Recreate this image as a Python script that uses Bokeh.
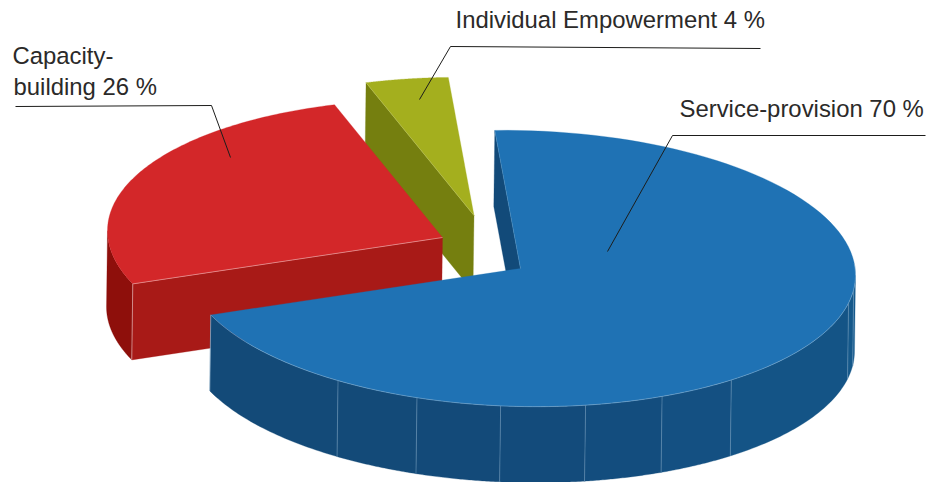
import numpy as np
from bokeh.core.properties import value
from bokeh.embed import file_html
from bokeh.models import Range1d
from bokeh.plotting import figure
from bokeh.resources import INLINE

# Shares of the three kinds of activity, clockwise from the first cut
categories = ["Service-provision", "Capacity-building", "Individual Empowerment"]
shares = [70, 26, 4]

# Pie projection, in page pixels
START_DEG = 355.6
RX, RY = 335.0, 138.0
SKEW = 0.02
DEPTH = 76.0
DEPTH_DX = -1.0
hubs = [(520.0, 268.0), (442.0, 237.0), (473.5, 215.0)]

TOP_COLORS = ["#1f72b4", "#d32729", "#a4af1e"]
CUT_COLORS = ["#124a79", "#a81a17", "#757f0f"]
RED_OUTER = "#8e0f0b"

# Panel seams on the blue wall (degrees clockwise from the back) and panel shades
blue_seams = [96.0, 101.7, 141.0, 155.0, 168.8, 183.4, 198.0, 213.0]
blue_panel_colors = ["#15598c", "#15588a", "#145486", "#145082", "#134d7e", "#134b7b", "#134a79", "#134a78", "#134a78"]

p = figure(width=929, height=482, output_backend="svg", toolbar_location=None,
           x_range=Range1d(0, 929), y_range=Range1d(482, 0), min_border=0,
           outline_line_color=None, background_fill_color="white")
p.xaxis.visible = False
p.yaxis.visible = False
p.grid.visible = False


def rim(hub, t0, t1, n=120):
    """Points along the top rim of a slice between two angles in degrees."""
    t = np.radians(np.linspace(t0, t1, n))
    dx = RX * np.sin(t)
    return hub[0] + dx, hub[1] - RY * np.cos(t) + SKEW * dx


def wall(xs, ys):
    """Closed outline of the side wall hanging under a top edge."""
    return (np.concatenate([xs, xs[::-1] + DEPTH_DX]),
            np.concatenate([ys, ys[::-1] + DEPTH]))


def fill(xs, ys, color):
    p.patch(list(xs), list(ys), fill_color=color, line_color=color, line_width=0.3)


# Slice limits follow from the shares
spans = [s / sum(shares) * 360.0 for s in shares]
limits = []
angle = START_DEG
for span in spans:
    limits.append((angle, angle + span))
    angle += span

blue, red, green = limits
blue_end = blue[1] % 360.0
hub_b, hub_r, hub_g = hubs

# Individual Empowerment: cut face, then top
gx, gy = rim(hub_g, *green)
wx, wy = wall(np.array([gx[0], hub_g[0]]), np.array([gy[0], hub_g[1]]))
fill(wx, wy, CUT_COLORS[2])
fill(np.r_[hub_g[0], gx], np.r_[hub_g[1], gy], TOP_COLORS[2])
p.line([gx[0], hub_g[0]], [gy[0], hub_g[1]], line_color="#c4cc70", line_width=0.5, line_alpha=0.7)

# Capacity-building: outer wall up to the left extreme, cut face, then top
rx, ry = rim(hub_r, *red)
ox, oy = rim(hub_r, red[0] % 360.0, 270.0)
wx, wy = wall(ox, oy)
fill(wx, wy, RED_OUTER)
wx, wy = wall(np.array([rx[0], hub_r[0]]), np.array([ry[0], hub_r[1]]))
fill(wx, wy, CUT_COLORS[1])
fill(np.r_[hub_r[0], rx], np.r_[hub_r[1], ry], TOP_COLORS[1])
p.line([rx[0], hub_r[0]], [ry[0], hub_r[1]], line_color="#e9a0a0", line_width=0.8, line_alpha=0.9)
p.line([rx[0], rx[0] + DEPTH_DX], [ry[0], ry[0] + DEPTH], line_color="#d9a0a0", line_width=0.8)

# Service-provision: cut face at the first edge, outer wall panels, then top
bx, by = rim(hub_b, *blue)
wx, wy = wall(np.array([bx[0], hub_b[0]]), np.array([by[0], hub_b[1]]))
fill(wx, wy, CUT_COLORS[0])
stops = [90.0] + blue_seams + [blue_end]
for a, b, color in zip(stops[:-1], stops[1:], blue_panel_colors):
    sx, sy = rim(hub_b, a, b, 40)
    wx, wy = wall(sx, sy)
    fill(wx, wy, color)
for seam in blue_seams:
    sx, sy = rim(hub_b, seam, seam, 1)
    p.line([sx[0], sx[0] + DEPTH_DX], [sy[0], sy[0] + DEPTH], line_color="#7fa6c6", line_width=0.8, line_alpha=0.6)
p.line([bx[-1], bx[-1] + DEPTH_DX], [by[-1], by[-1] + DEPTH], line_color="#a9c4da", line_width=0.8, line_alpha=0.8)

fill(np.r_[hub_b[0], bx], np.r_[hub_b[1], by], TOP_COLORS[0])
fx, fy = rim(hub_b, 85.0, blue_end)
p.line(list(fx), list(fy), line_color="#8db6d6", line_width=0.7, line_alpha=0.7)
p.line([bx[0], hub_b[0]], [by[0], hub_b[1]], line_color="#6ea3cc", line_width=0.5, line_alpha=0.7)

# Leader lines from each label into its slice
LEADER = "#1d1d1b"
p.line([15, 211, 230], [106, 105, 157], line_color=LEADER, line_width=1.0)
p.line([760, 450, 419], [48, 46, 99], line_color=LEADER, line_width=1.0)
p.line([925, 672, 607], [135, 135, 251], line_color=LEADER, line_width=1.0)

# Labels
labels = [
    ("Individual Empowerment 4 %", 455, 19),
    ("Capacity-", 12, 55),
    ("building 26 %", 13, 86),
    ("Service-provision 70 %", 679, 108),
]
for txt, x, y in labels:
    p.text([x], [y], text=[txt], text_font=value("Liberation Sans"), text_font_size="23.9px",
           text_color="#2b2a29", text_align="left", text_baseline="alphabetic")

open("out.html", "w").write(file_html(p, INLINE))
